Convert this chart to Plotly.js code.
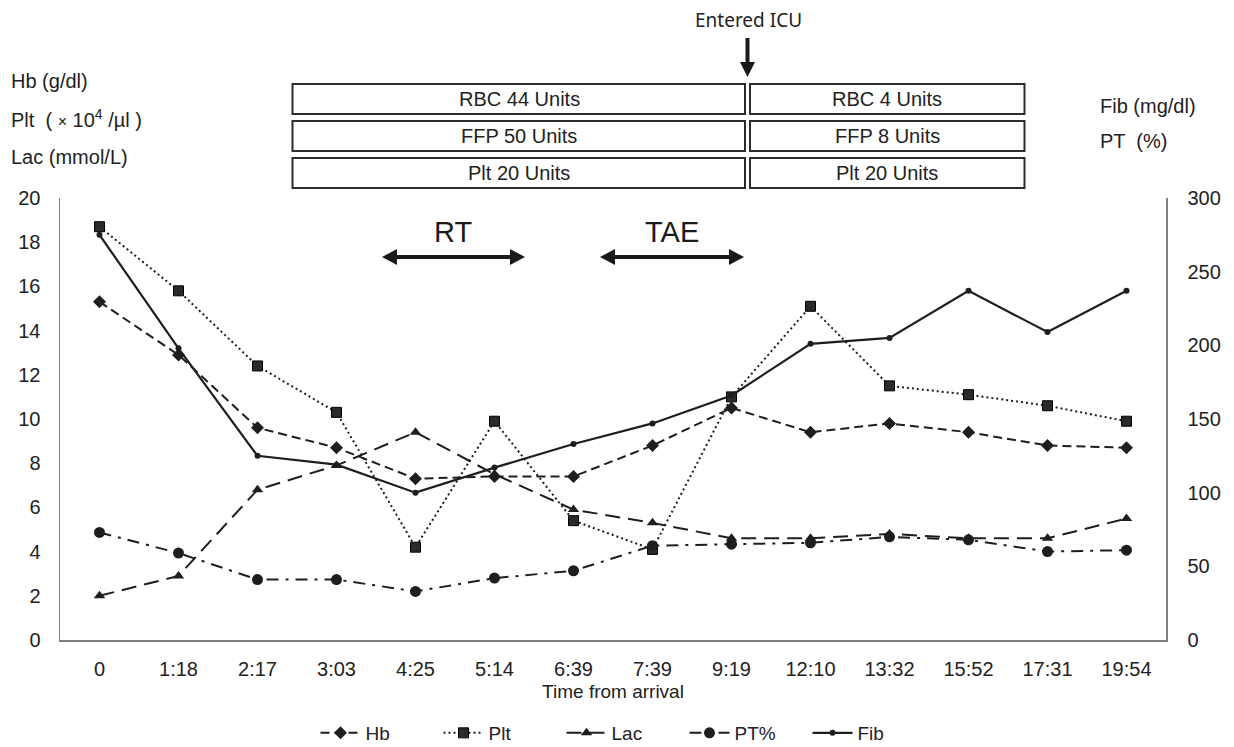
<!DOCTYPE html>
<html>
<head>
<meta charset="utf-8">
<script src="https://cdn.plot.ly/plotly-3.0.1.min.js"></script>
<style>html,body{margin:0;padding:0;background:#fff;}#chart{width:1234px;height:747px;}</style>
</head>
<body>
<div id="chart"></div>
<script>
// ---- data ----
const times = ['0','1:18','2:17','3:03','4:25','5:14','6:39','7:39','9:19','12:10','13:32','15:52','17:31','19:54'];
const hb  = [15.3, 12.9, 9.6, 8.7, 7.3, 7.4, 7.4, 8.8, 10.5, 9.4, 9.8, 9.4, 8.8, 8.7];
const plt = [18.7, 15.8, 12.4, 10.3, 4.2, 9.9, 5.4, 4.1, 11.0, 15.1, 11.5, 11.1, 10.6, 9.9];
const lac = [2.0, 2.9, 6.8, 7.9, 9.4, 7.5, 5.9, 5.3, 4.6, 4.6, 4.8, 4.6, 4.6, 5.5];
const ptPct = [73, 59, 41, 41, 33, 42, 47, 64, 65, 66, 70, 68, 60, 61];
const fib = [275, 198, 125, 119, 100, 117, 133, 147, 166, 201, 205, 237, 209, 237];
const leftTicks = [0,2,4,6,8,10,12,14,16,18,20];
const rightTicks = [0,50,100,150,200,250,300];
const transfusionLeft = ['RBC 44 Units','FFP 50 Units','Plt 20 Units'];
const transfusionRight = ['RBC 4 Units','FFP 8 Units','Plt 20 Units'];

// ---- layout geometry ----
const W = 1234, H = 747;
const M = {l:60, r:68, t:198, b:107, autoexpand:false};
const PW = W - M.l - M.r, PH = H - M.t - M.b;
const X = px => (px - M.l) / PW;
const Y = py => (H - M.b - py) / PH;
const FONT = 'Liberation Sans, Arial, sans-serif';
const INK = '#1e1e1e';

const traces = [
  {name:'Hb', x:times, y:hb, type:'scatter', mode:'lines+markers',
   line:{color:INK, width:2, dash:'9px,5px'}, marker:{symbol:'diamond', size:10, color:INK}},
  {name:'Plt', x:times, y:plt, type:'scatter', mode:'lines+markers',
   line:{color:INK, width:2, dash:'2px,3px'}, marker:{symbol:'square', size:10, color:'#2a2a2a', line:{color:'#000', width:1}}},
  {name:'Lac', x:times, y:lac, type:'scatter', mode:'lines+markers',
   line:{color:INK, width:2, dash:'15px,8px'}, marker:{symbol:'triangle-up', size:10, color:INK}},
  {name:'PT%', x:times, y:ptPct, yaxis:'y2', type:'scatter', mode:'lines+markers',
   line:{color:INK, width:2, dash:'12px,7px,3px,7px'}, marker:{symbol:'circle', size:11, color:INK}},
  {name:'Fib', x:times, y:fib, yaxis:'y2', type:'scatter', mode:'lines+markers',
   line:{color:INK, width:2.2}, marker:{symbol:'circle', size:6, color:INK}}
];

const shapes = [];
const annotations = [];
// transfusion boxes
const rowTop = [84, 121, 158], rowBot = [114, 151, 188];
for (let i = 0; i < 3; i++) {
  shapes.push({type:'rect', xref:'paper', yref:'paper', x0:X(292.5), x1:X(745), y0:Y(rowBot[i]), y1:Y(rowTop[i]), line:{color:'#2b2b2b', width:2}});
  shapes.push({type:'rect', xref:'paper', yref:'paper', x0:X(750), x1:X(1024.5), y0:Y(rowBot[i]), y1:Y(rowTop[i]), line:{color:'#2b2b2b', width:2}});
  const cy = Y((rowTop[i] + rowBot[i]) / 2);
  annotations.push({xref:'paper', yref:'paper', x:X(519), y:cy, text:transfusionLeft[i], showarrow:false, xanchor:'center', yanchor:'middle', font:{family:FONT, size:20, color:'#222'}});
  annotations.push({xref:'paper', yref:'paper', x:X(887), y:cy, text:transfusionRight[i], showarrow:false, xanchor:'center', yanchor:'middle', font:{family:FONT, size:20, color:'#222'}});
}
// Entered ICU arrow (vertical)
const P = (a,b) => X(a) + ',' + Y(b);
shapes.push({type:'path', xref:'paper', yref:'paper', path:`M ${P(745.5,38)} L ${P(749.5,38)} L ${P(749.5,62)} L ${P(755,62)} L ${P(747.5,77)} L ${P(740,62)} L ${P(745.5,62)} Z`, fillcolor:'#1a1a1a', line:{width:0}});
annotations.push({xref:'paper', yref:'paper', x:X(748), y:Y(20), text:'Entered ICU', showarrow:false, xanchor:'center', yanchor:'middle', font:{family:'Noto Sans, Open Sans, sans-serif', size:19, color:'#222'}});
// double arrows RT / TAE
function dblArrow(x0, x1, yc) {
  const h = 15, hw = 8, sw = 2;
  return `M ${P(x0,yc)} L ${P(x0+h,yc-hw)} L ${P(x0+h,yc-sw)} L ${P(x1-h,yc-sw)} L ${P(x1-h,yc-hw)} L ${P(x1,yc)} L ${P(x1-h,yc+hw)} L ${P(x1-h,yc+sw)} L ${P(x0+h,yc+sw)} L ${P(x0+h,yc+hw)} Z`;
}
shapes.push({type:'path', xref:'paper', yref:'paper', path:dblArrow(382, 525, 257), fillcolor:'#1a1a1a', line:{width:0}});
shapes.push({type:'path', xref:'paper', yref:'paper', path:dblArrow(600, 744, 257), fillcolor:'#1a1a1a', line:{width:0}});
annotations.push({xref:'paper', yref:'paper', x:X(453), y:Y(232), text:'RT', showarrow:false, xanchor:'center', yanchor:'middle', font:{family:FONT, size:29, color:'#1a1a1a'}});
annotations.push({xref:'paper', yref:'paper', x:X(672), y:Y(232), text:'TAE', showarrow:false, xanchor:'center', yanchor:'middle', font:{family:FONT, size:29, color:'#1a1a1a'}});
// unit labels
const unitFont = {family:FONT, size:20, color:'#222'};
annotations.push({xref:'paper', yref:'paper', x:X(9), y:Y(81), text:'Hb (g/dl)', showarrow:false, xanchor:'left', yanchor:'middle', font:unitFont});
annotations.push({xref:'paper', yref:'paper', x:X(9), y:Y(119), text:'Plt  ( <span style="font-size:16px">×</span> 10<sup>4</sup> /µl )', showarrow:false, xanchor:'left', yanchor:'middle', font:unitFont});
annotations.push({xref:'paper', yref:'paper', x:X(9), y:Y(157), text:'Lac (mmol/L)', showarrow:false, xanchor:'left', yanchor:'middle', font:unitFont});
annotations.push({xref:'paper', yref:'paper', x:X(1098), y:Y(106), text:'Fib (mg/dl)', showarrow:false, xanchor:'left', yanchor:'middle', font:unitFont});
annotations.push({xref:'paper', yref:'paper', x:X(1098), y:Y(141), text:'PT  (%)', showarrow:false, xanchor:'left', yanchor:'middle', font:unitFont});

const axisLine = '#808080';
const tickFont = {family:FONT, size:20, color:'#222'};
const layout = {
  width:W, height:H, margin:M, paper_bgcolor:'#fff', plot_bgcolor:'#fff',
  showlegend:true,
  legend:{orientation:'h', x:X(623), xanchor:'center', y:Y(733), yanchor:'middle', font:{family:FONT, size:19, color:'#222'}, itemwidth:40, entrywidth:68, entrywidthmode:'pixels', bgcolor:'rgba(0,0,0,0)'},
  xaxis:{type:'category', range:[-0.5, 13.5], automargin:false, showline:true, linecolor:axisLine, linewidth:1.5, showgrid:false, zeroline:false, ticks:'', tickfont:tickFont, ticklabelstandoff:10, fixedrange:true,
         title:{text:'Time from arrival', font:{family:FONT, size:19, color:'#222'}, standoff:6}},
  yaxis:{range:[0,20], tickvals:leftTicks, automargin:false, showline:true, linecolor:axisLine, linewidth:1.5, showgrid:false, zeroline:false, ticks:'', tickfont:tickFont, ticklabelstandoff:14, fixedrange:true},
  yaxis2:{range:[0,300], tickvals:rightTicks, automargin:false, overlaying:'y', side:'right', showline:true, linecolor:axisLine, linewidth:1.5, showgrid:false, zeroline:false, ticks:'', tickfont:tickFont, ticklabelstandoff:16, fixedrange:true},
  shapes:shapes, annotations:annotations
};
Plotly.newPlot('chart', traces, layout, {displayModeBar:false, staticPlot:true});
</script>
</body>
</html>
